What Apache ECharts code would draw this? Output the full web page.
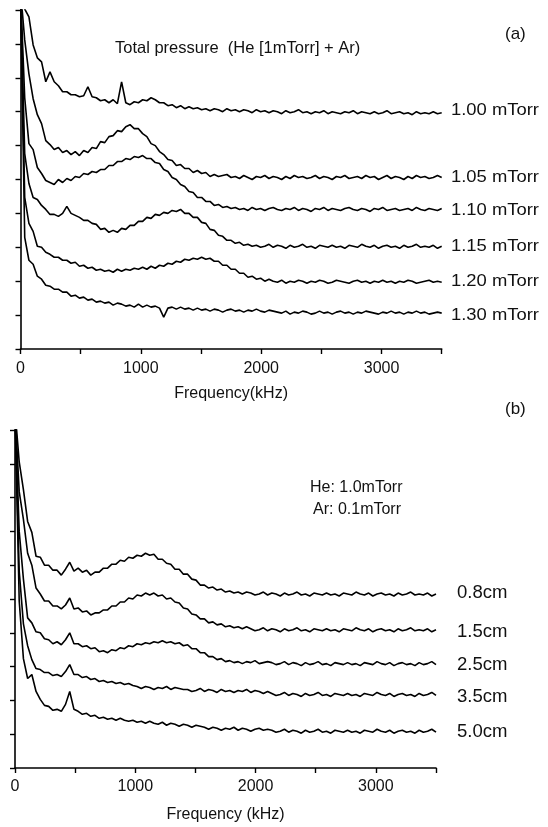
<!DOCTYPE html>
<html>
<head>
<meta charset="utf-8">
<script src="https://cdn.jsdelivr.net/npm/echarts@6/dist/echarts.min.js"></script>
<style>html,body{margin:0;padding:0;background:#fff;}#c{width:548px;height:827px;}</style>
</head>
<body>
<div id="c"></div>
<script>
// Frequency samples (kHz)
const freq = [0,35,70,105,140,175,210,245,280,315,
350,385,420,455,490,525,560,595,630,665,
700,735,770,805,840,875,910,945,980,1015,
1050,1085,1120,1155,1190,1225,1260,1295,1330,1365,
1400,1435,1470,1505,1540,1575,1610,1645,1680,1715,
1750,1785,1820,1855,1890,1925,1960,1995,2030,2065,
2100,2135,2170,2205,2240,2275,2310,2345,2380,2415,
2450,2485,2520,2555,2590,2625,2660,2695,2730,2765,
2800,2835,2870,2905,2940,2975,3010,3045,3080,3115,
3150,3185,3220,3255,3290,3325,3360,3395,3430,3465,
3500];

// Panel (a): offset spectra (arb. units)
const a100 = [360,341,333,305,292,288,268,278,268,264,
258,258,255,255,253,254,263,253,252,249,
250,247,250,246,268,247,245,248,247,250,
249,252,250,247,247,244,245,242,244,241,
243,241,242,240,241,239,241,240,238,241,
239,240,238,240,239,237,240,238,239,237,
239,238,236,239,237,238,240,237,238,236,
238,237,239,236,238,237,236,238,237,239,
236,238,237,236,238,236,237,239,236,237,
238,236,237,235,238,236,237,236,238,236,
237];
const a105 = [360,310,276,251,235,226,209,205,200,202,
197,199,195,198,194,199,197,202,201,208,
207,213,214,219,218,223,225,221,221,216,
213,206,204,198,195,190,189,184,185,181,
181,177,179,176,177,173,175,173,174,175,
172,173,171,174,172,170,173,172,174,171,
173,172,170,173,171,174,172,173,171,172,
174,171,173,172,170,173,172,174,171,172,
173,171,174,172,173,170,172,174,171,173,
172,170,173,171,174,172,173,171,172,174,
172];
const a110 = [360,252,206,200,182,176,169,167,165,170,
167,171,169,173,172,176,175,178,177,180,
180,184,184,188,188,191,190,193,192,194,
191,191,187,186,180,178,172,170,165,163,
158,157,152,152,148,148,144,145,142,143,
141,142,140,141,139,142,140,141,139,141,
142,140,139,141,140,142,139,141,140,138,
141,140,142,139,141,140,139,141,142,140,
139,141,140,138,141,140,142,139,140,141,
139,140,141,139,142,140,139,141,140,139,
141];
const a115 = [360,196,166,152,150,144,140,135,135,133,
136,143,136,134,132,129,129,126,125,120,
121,117,119,117,121,120,124,124,128,128,
132,131,135,134,137,136,139,138,140,136,
136,132,132,127,126,120,119,114,113,109,
109,106,107,104,105,103,104,102,103,105,
102,104,103,101,104,102,103,105,102,103,
101,104,103,102,104,102,103,101,104,103,
102,105,103,102,104,101,103,104,102,103,
101,104,102,103,105,102,103,102,104,101,
103];
const a120 = [360,152,126,118,103,102,97,95,92,92,
89,89,86,87,83,84,81,82,79,80,
78,79,77,80,78,80,79,81,80,82,
80,83,81,84,83,86,85,88,87,90,
89,91,90,92,90,91,88,88,84,84,
80,80,76,76,72,73,70,71,68,70,
68,67,69,66,68,67,69,68,66,68,
67,69,68,66,67,69,68,67,66,68,
69,67,68,66,68,67,69,67,68,66,
68,67,69,68,66,67,68,69,67,68,
67];
const a130 = [360,112,89,85,73,70,64,63,60,60,
57,57,53,54,51,52,49,50,47,48,
46,47,44,46,45,43,44,42,45,42,
44,42,43,41,32,41,42,40,42,40,
41,39,41,39,40,38,40,39,37,39,
40,38,39,37,39,38,40,38,37,39,
38,37,36,38,35,37,36,38,37,35,
36,38,36,37,35,37,38,36,37,35,
37,36,38,37,36,35,37,36,38,36,
37,35,37,36,38,36,37,35,36,37,
36];

// Panel (b): offset spectra (arb. units)
const b08 = [360,308,280,248,237,213,212,204,204,199,
199,194,200,207,198,201,197,199,194,197,
197,201,201,205,205,209,208,212,211,214,
213,216,214,215,210,210,206,205,200,200,
195,195,190,189,184,184,181,182,179,180,
177,178,176,177,175,177,176,174,175,177,
174,176,175,173,176,174,175,177,174,175,
173,176,175,174,176,174,175,173,176,175,
174,177,175,174,176,173,175,176,174,175,
173,176,174,175,177,174,175,174,176,173,
175];
const b15 = [360,278,250,216,204,181,175,168,168,163,
163,160,164,171,160,161,157,158,154,156,
156,159,159,163,163,167,167,171,170,174,
173,176,174,176,173,174,170,171,167,166,
161,160,155,154,150,150,146,147,144,145,
142,143,141,142,140,142,140,138,139,141,
138,140,139,137,140,138,139,141,138,139,
137,140,139,138,140,138,139,137,140,139,
138,141,139,138,140,137,139,140,138,139,
137,140,138,139,141,138,139,138,140,137,
139];
const b25 = [360,238,190,151,146,137,136,130,129,125,
127,124,129,136,125,125,122,123,120,121,
117,118,116,119,118,121,120,123,122,125,
124,126,125,127,126,128,126,127,125,126,
123,124,120,120,116,116,112,112,109,110,
107,108,106,107,105,107,106,108,105,106,
107,106,104,105,107,104,106,105,103,106,
104,105,107,104,105,103,106,105,104,106,
104,105,103,106,105,104,107,105,104,106,
103,105,106,104,105,103,106,104,105,107,
104];
const b35 = [360,198,145,123,109,100,99,96,96,93,
94,92,97,104,94,94,91,92,89,90,
87,88,86,87,85,86,84,85,83,82,
80,82,81,79,81,80,82,79,81,80,
79,79,77,78,80,77,79,78,76,79,
77,78,76,78,77,79,76,78,77,75,
77,75,73,74,76,73,75,74,72,75,
73,74,76,73,74,72,75,74,73,75,
73,74,72,75,74,73,76,74,73,75,
72,74,75,73,74,72,75,73,74,76,
73];
const b50 = [360,168,110,90,94,77,69,63,62,58,
59,57,64,77,59,57,54,55,52,53,
50,51,49,50,48,50,48,47,48,46,
47,45,47,45,44,46,43,45,44,42,
44,43,41,43,42,41,39,41,40,38,
40,39,41,38,40,39,37,39,40,38,
39,38,36,37,39,36,38,37,35,38,
36,37,39,36,37,35,38,37,36,38,
36,37,35,38,37,36,39,37,36,38,
35,37,38,36,37,35,38,36,37,39,
36];

const namesA = ['1.00 mTorr','1.05 mTorr','1.10 mTorr','1.15 mTorr','1.20 mTorr','1.30 mTorr'];
const namesB = ['0.8cm','1.5cm','2.5cm','3.5cm','5.0cm'];
const xTicks = [0,1000,2000,3000];

const seriesA = [a100,a105,a110,a115,a120,a130];
const seriesB = [b08,b15,b25,b35,b50];

const FONT = '"Liberation Sans", Arial, Helvetica, sans-serif';
const pairs = arr => arr.map((v,i)=>[freq[i], v]);

function xAx(gi, name, gap, margin){
  return {
    gridIndex: gi, type:'value', min:0, max:3500, interval:500,
    name: name, nameLocation:'middle', nameGap: gap,
    nameTextStyle:{fontFamily:FONT, fontSize:16, color:'#111'},
    axisLine:{show:true, onZero:false, lineStyle:{color:'#000', width:1.6}},
    axisTick:{show:true, inside:false, length:5, lineStyle:{color:'#000', width:1.4}},
    axisLabel:{show:true, margin:margin, fontFamily:FONT, fontSize:16, color:'#111',
      formatter: v => xTicks.indexOf(v) >= 0 ? String(v) : ''},
    splitLine:{show:false}
  };
}
function yAx(gi){
  return {
    gridIndex: gi, type:'value', min:0, max:340, interval:34,
    axisLine:{show:true, onZero:false, lineStyle:{color:'#000', width:1.6}},
    axisTick:{show:true, inside:false, length:5, lineStyle:{color:'#000', width:1.4}},
    axisLabel:{show:false},
    splitLine:{show:false}
  };
}

const series = [];
seriesA.forEach((arr,k)=>series.push({name:namesA[k], type:'line', xAxisIndex:0, yAxisIndex:0,
  data:pairs(arr), showSymbol:false, symbol:'none', clip:true,
  lineStyle:{color:'#000', width:1.6}, silent:true}));
seriesB.forEach((arr,k)=>series.push({name:namesB[k], type:'line', xAxisIndex:1, yAxisIndex:1,
  data:pairs(arr), showSymbol:false, symbol:'none', clip:true,
  lineStyle:{color:'#000', width:1.6}, silent:true}));

const labA_y = [111,178,211,247,282,316];
const labB_y = [593,632,665,697,732];
const graphics = [];
namesA.forEach((t,k)=>graphics.push({type:'text', x:451, y:labA_y[k], scaleX:1.15,
  style:{text:t, fontFamily:FONT, fontSize:16, fill:'#111', verticalAlign:'middle', align:'left'}}));
namesB.forEach((t,k)=>graphics.push({type:'text', x:457, y:labB_y[k], scaleX:1.06,
  style:{text:t, fontFamily:FONT, fontSize:17.5, fill:'#111', verticalAlign:'middle', align:'left'}}));
graphics.push({type:'text', x:115, y:48, style:{text:'Total pressure  (He [1mTorr] + Ar)', fontFamily:FONT, fontSize:16.5, fill:'#111', verticalAlign:'middle'}});
graphics.push({type:'text', x:505, y:34, style:{text:'(a)', fontFamily:FONT, fontSize:17, fill:'#111', verticalAlign:'middle'}});
graphics.push({type:'text', x:505, y:409, style:{text:'(b)', fontFamily:FONT, fontSize:17, fill:'#111', verticalAlign:'middle'}});
graphics.push({type:'text', x:310, y:488, style:{text:'He: 1.0mTorr', fontFamily:FONT, fontSize:16, fill:'#111', verticalAlign:'middle'}});
graphics.push({type:'text', x:313, y:510, style:{text:'Ar: 0.1mTorr', fontFamily:FONT, fontSize:16, fill:'#111', verticalAlign:'middle'}});

const chart = echarts.init(document.getElementById('c'), null, {renderer:'canvas'});
chart.setOption({
  animation:false,
  backgroundColor:'#fff',
  grid:[
    {left:20.5, top:10, width:421.2, height:339, containLabel:false},
    {left:15, top:430, width:421, height:338, containLabel:false}
  ],
  xAxis:[xAx(0,'Frequency(kHz)',37,12), xAx(1,'Frequency (kHz)',39,11)],
  yAxis:[yAx(0), yAx(1)],
  series: series,
  graphic: graphics
});
</script>
</body>
</html>
